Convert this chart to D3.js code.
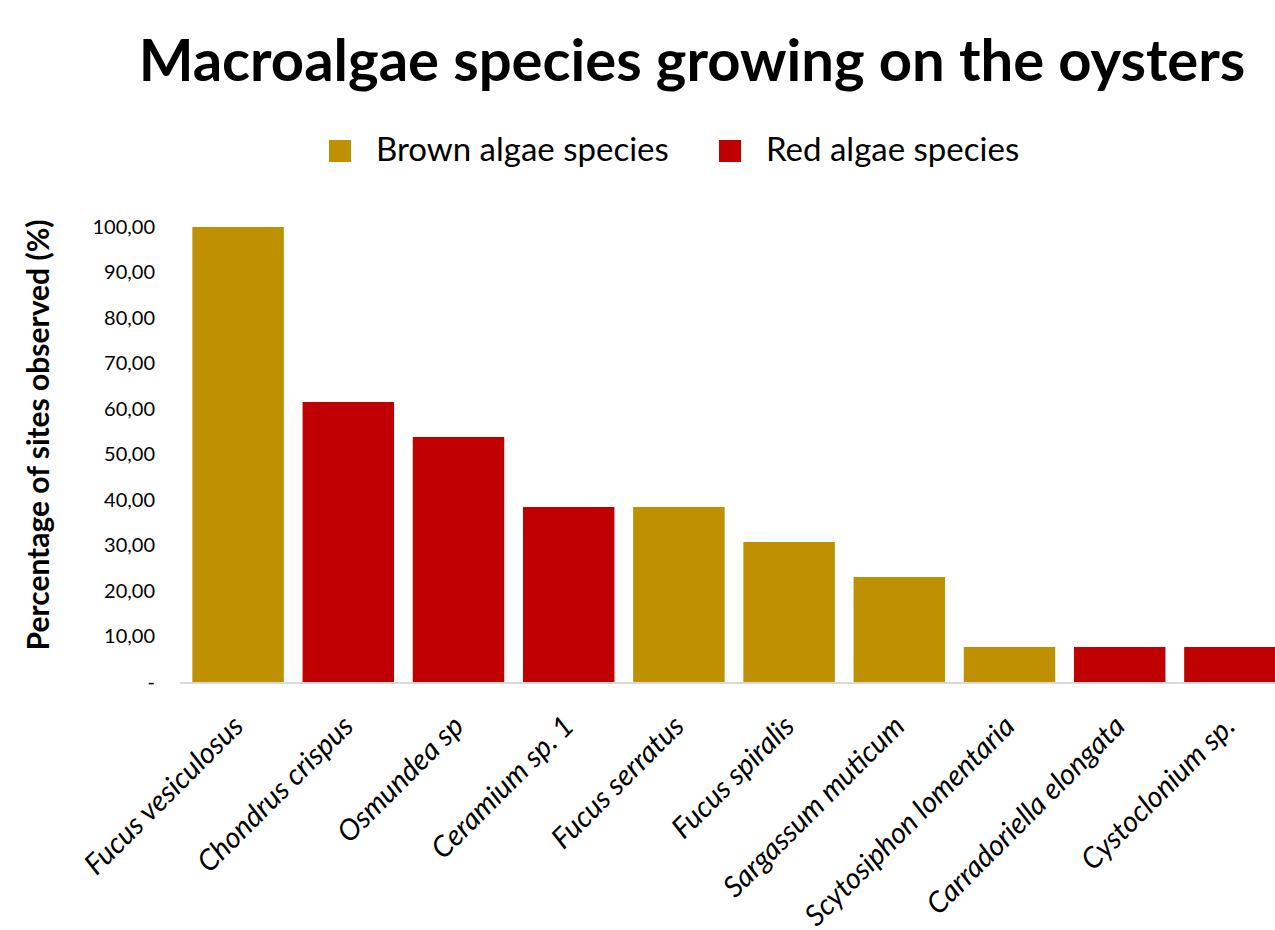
<!DOCTYPE html>
<html>
<head>
<meta charset="utf-8">
<script src="https://cdn.jsdelivr.net/npm/d3@7"></script>
<style>
  body { margin: 0; background: #fff; }
  text { font-family: Lato, "Open Sans", sans-serif; fill: #000; }
</style>
</head>
<body>
<div id="chart"></div>
<script>
const species = ["Fucus vesiculosus", "Chondrus crispus", "Osmundea sp", "Ceramium sp. 1", "Fucus serratus",
    "Fucus spiralis", "Sargassum muticum", "Scytosiphon lomentaria", "Carradoriella elongata", "Cystoclonium sp."];
const percentObserved = [100, 61.54, 53.85, 38.46, 38.46, 30.77, 23.08, 7.69, 7.69, 7.69];
const algaeGroup = ["Brown", "Red", "Red", "Red", "Brown", "Brown", "Brown", "Brown", "Red", "Red"];
const groupNames = ["Brown", "Red"];
const legendLabels = ["Brown algae species", "Red algae species"];
const yTicks = [0, 10, 20, 30, 40, 50, 60, 70, 80, 90, 100];

const width = 1275, height = 930;
const margin = { top: 227, right: -10, bottom: 248, left: 183 };
const innerW = width - margin.left - margin.right;
const innerH = height - margin.top - margin.bottom;

const color = d3.scaleOrdinal().domain(groupNames).range(["#BF9000", "#C00000"]);

const svg = d3.select("#chart")
    .append("svg")
    .attr("width", width)
    .attr("height", height);

// title
svg.append("text")
    .attr("x", 692)
    .attr("y", 81)
    .style("text-anchor", "middle")
    .style("font-size", "58px")
    .style("font-weight", "bold")
    .text("Macroalgae species growing on the oysters");

// legend
const legend = svg.append("g");
const legendX = [329, 719];
groupNames.forEach((g, i) => {
    legend.append("rect")
        .attr("x", legendX[i])
        .attr("y", 140)
        .attr("width", 22)
        .attr("height", 22)
        .attr("fill", color(g));
    legend.append("text")
        .attr("x", legendX[i] + 47)
        .attr("y", 161)
        .style("font-size", "33px")
        .text(legendLabels[i]);
});

const g = svg.append("g")
    .attr("transform", `translate(${margin.left}, ${margin.top})`);

const x = d3.scaleBand()
    .domain(species)
    .range([0, innerW])
    .paddingInner(0.17)
    .paddingOuter(0.085);

const y = d3.scaleLinear()
    .domain([0, 100])
    .range([innerH, 0]);

g.selectAll(".bar")
    .data(species)
    .enter()
    .append("rect")
    .attr("class", "bar")
    .attr("x", d => x(d))
    .attr("y", (d, i) => y(percentObserved[i]))
    .attr("width", x.bandwidth())
    .attr("height", (d, i) => innerH - y(percentObserved[i]))
    .attr("fill", (d, i) => color(algaeGroup[i]));

// baseline
g.append("line")
    .attr("x1", -3)
    .attr("x2", innerW)
    .attr("y1", innerH + 1)
    .attr("y2", innerH + 1)
    .attr("stroke", "#D9D9D9")
    .attr("stroke-width", 2);

// y axis
const yAxis = g.append("g")
    .call(d3.axisLeft(y)
        .tickValues(yTicks)
        .tickSize(0)
        .tickPadding(28)
        .tickFormat(d => d === 0 ? "-" : d3.format(".2f")(d).replace(".", ",")));
yAxis.select(".domain").remove();
yAxis.selectAll("text")
    .style("font-size", "20px")
    .style("font-family", "Lato, sans-serif");

svg.append("text")
    .attr("transform", "rotate(-90)")
    .attr("x", -435)
    .attr("y", 49)
    .style("text-anchor", "middle")
    .style("font-size", "30px")
    .style("font-weight", "bold")
    .text("Percentage of sites observed (%)");

// x axis labels
const xAxis = g.append("g")
    .attr("transform", `translate(0, ${innerH})`)
    .call(d3.axisBottom(x).tickSize(0).tickPadding(0));
xAxis.select(".domain").remove();
xAxis.selectAll("text")
    .style("font-size", "29px")
    .style("font-style", "italic")
    .style("font-family", "Lato, sans-serif")
    .style("text-anchor", "end")
    .attr("dy", "0")
    .attr("y", 0)
    .attr("transform", "translate(7, 46) rotate(-45)");
</script>
</body>
</html>
